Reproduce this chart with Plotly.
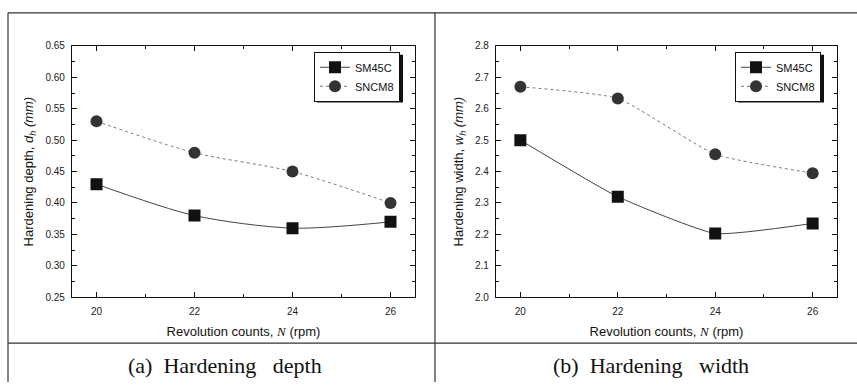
import plotly.graph_objects as go

W, H = 857, 387

rpm = [20, 22, 24, 26]
depth_sm45c = [0.43, 0.38, 0.36, 0.37]
depth_sncm8 = [0.53, 0.48, 0.45, 0.40]
width_sm45c = [2.50, 2.32, 2.203, 2.235]
width_sncm8 = [2.67, 2.633, 2.455, 2.395]
series_names = ["SM45C", "SNCM8"]
g1 = "\u00a0" * 2
g2 = "\u00a0" * 3
captions = ["(a)" + g1 + "Hardening" + g2 + "depth", "(b)" + g1 + "Hardening" + g2 + "width"]

def px(x):
    return x / W

def py(y):
    return 1 - y / H

fig = go.Figure()

def line_sm(s):
    return dict(color="#444", width=1, shape="spline", smoothing=s)

def line_nc(s):
    return dict(color="#777", width=1, dash="dot", shape="spline", smoothing=s)

mk_sm = dict(symbol="square", size=12, color="#111")
mk_nc = dict(symbol="circle", size=12, color="#333")

fig.add_trace(go.Scatter(x=rpm, y=depth_sm45c, name=series_names[0], mode="lines+markers",
                         line=line_sm(0.8), marker=mk_sm, xaxis="x", yaxis="y", legend="legend"))
fig.add_trace(go.Scatter(x=rpm, y=depth_sncm8, name=series_names[1], mode="lines+markers",
                         line=line_nc(0.8), marker=mk_nc, xaxis="x", yaxis="y", legend="legend"))
fig.add_trace(go.Scatter(x=rpm, y=width_sm45c, name=series_names[0], mode="lines+markers",
                         line=line_sm(0.45), marker=mk_sm, xaxis="x2", yaxis="y2", legend="legend2"))
fig.add_trace(go.Scatter(x=rpm, y=width_sncm8, name=series_names[1], mode="lines+markers",
                         line=line_nc(0.45), marker=mk_nc, xaxis="x2", yaxis="y2", legend="legend2"))

tickfont = dict(family="Arial, Liberation Sans, sans-serif", size=10, color="#222")
titlefont = dict(family="Arial, Liberation Sans, sans-serif", size=13, color="#111")

def xaxis(domain, anchor):
    return dict(domain=domain, anchor=anchor, range=[19.5, 26.5], tickvals=rpm,
                ticks="inside", ticklen=5, tickcolor="#111", showline=True, linecolor="#111",
                linewidth=1.2, mirror="ticks", showgrid=False, zeroline=False,
                minor=dict(ticks="inside", ticklen=3, dtick=1, tickcolor="#111"),
                tickfont=tickfont, ticklabelstandoff=5,
                title=dict(text="Revolution counts, <i><span style='font-family:Liberation Serif'>N</span></i> (rpm)",
                           font=titlefont, standoff=10))

def yaxis(domain, anchor, rng, dtick, title, fmt):
    return dict(domain=domain, anchor=anchor, range=rng, dtick=dtick, tick0=rng[0],
                ticks="inside", ticklen=5, tickcolor="#111", showline=True, linecolor="#111",
                linewidth=1.2, mirror="ticks", showgrid=False, zeroline=False,
                minor=dict(ticks="inside", ticklen=3, dtick=dtick / 2, tickcolor="#111"),
                tickfont=tickfont, tickformat=fmt, ticklabelstandoff=4,
                title=dict(text=title, font=titlefont, standoff=8))

legfont = dict(family="Arial, Liberation Sans, sans-serif", size=11, color="#111")
ydom = [py(300), py(42)]
fig.update_layout(
    width=W, height=H, margin=dict(l=0, r=0, t=0, b=0),
    paper_bgcolor="white", plot_bgcolor="white",
    xaxis=xaxis([px(72), px(415)], "y"),
    yaxis=yaxis(ydom, "x", [0.25, 0.65], 0.05,
                "Hardening depth, <i>d<sub>h</sub></i> <i>(mm)</i>", ".2f"),
    xaxis2=xaxis([px(496), px(837)], "y2"),
    yaxis2=yaxis(ydom, "x2", [2.0, 2.8], 0.1,
                 "Hardening width, <i>w<sub>h</sub></i> <i>(mm)</i>", ".1f"),
    legend=dict(x=px(400), y=py(48), xanchor="right", yanchor="top",
                bgcolor="white", bordercolor="#111", borderwidth=1,
                font=legfont, itemwidth=30, tracegroupgap=0),
    legend2=dict(x=px(821), y=py(48), xanchor="right", yanchor="top",
                 bgcolor="white", bordercolor="#111", borderwidth=1,
                 font=legfont, itemwidth=30, tracegroupgap=0),
)

# table lines and legend shadows
tl = dict(color="#333", width=1.2)
shapes = [
    dict(type="line", xref="paper", yref="paper", x0=px(8), x1=1, y0=py(8), y1=py(8), line=tl),
    dict(type="line", xref="paper", yref="paper", x0=px(8), x1=1, y0=py(347), y1=py(347), line=tl),
    dict(type="line", xref="paper", yref="paper", x0=px(8), x1=px(8), y0=py(8), y1=0, line=tl),
    dict(type="line", xref="paper", yref="paper", x0=px(435), x1=px(435), y0=py(8), y1=0, line=tl),
    dict(type="rect", xref="paper", yref="paper", x0=px(317), x1=px(403), y0=py(100), y1=py(51),
         fillcolor="#111", line=dict(width=0), layer="above"),
    dict(type="rect", xref="paper", yref="paper", x0=px(738), x1=px(824), y0=py(100), y1=py(51),
         fillcolor="#111", line=dict(width=0), layer="above"),
]
fig.update_layout(shapes=shapes)

capfont = dict(family="Liberation Serif, Times New Roman, serif", size=22, color="#111")
fig.add_annotation(x=px(225), y=py(370), xref="paper", yref="paper", text=captions[0],
                   showarrow=False, font=capfont, xanchor="center", yanchor="middle")
fig.add_annotation(x=px(651), y=py(370), xref="paper", yref="paper", text=captions[1],
                   showarrow=False, font=capfont, xanchor="center", yanchor="middle")

fig.write_html("out.html", config={"displayModeBar": False},
               post_script="document.body.style.margin='0px';")
